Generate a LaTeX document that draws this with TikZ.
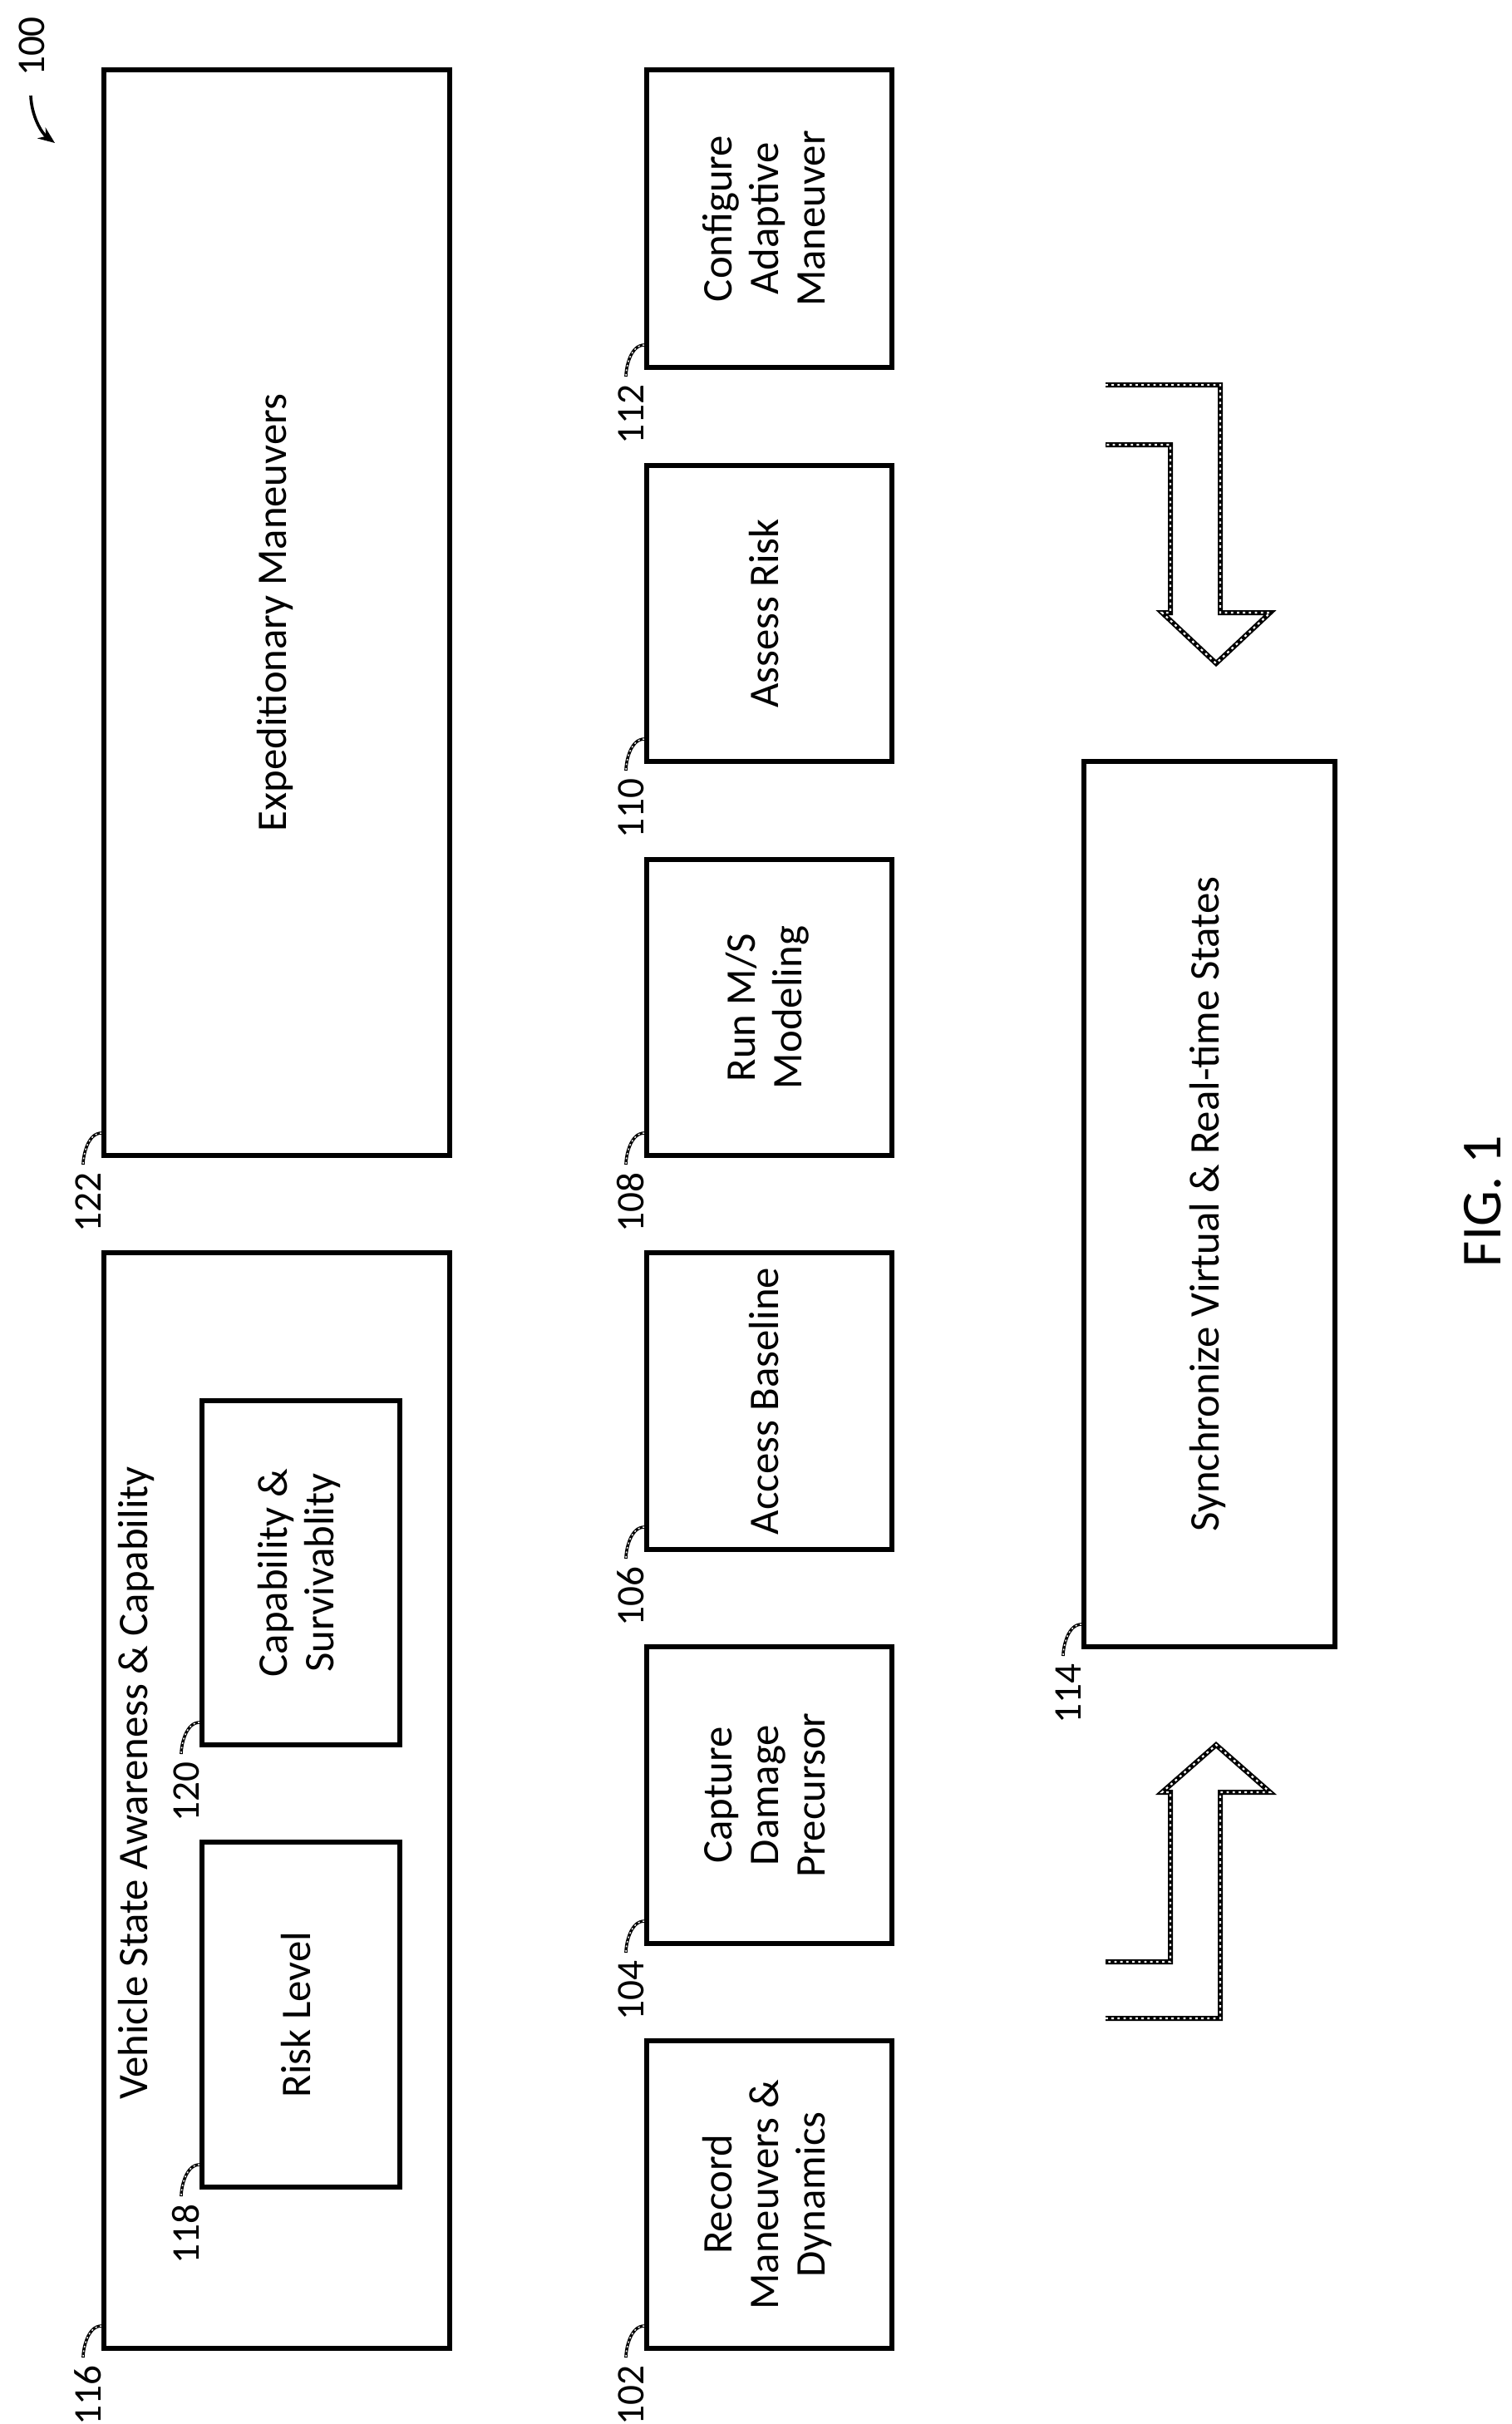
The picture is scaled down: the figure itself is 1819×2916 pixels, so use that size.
\documentclass[tikz,border=0pt]{standalone}
\usepackage{fontspec}
\usepackage{graphicx}
\setmainfont{Carlito}
\usetikzlibrary{arrows.meta}
\newcommand{\rt}[1]{\rotatebox{90}{\begin{tabular}{@{}c@{}}#1\end{tabular}}}
\begin{document}
\begin{tikzpicture}[x=0.25pt,y=-0.25pt,
  box/.style={draw,line width=1.5pt,inner sep=0pt,font=\fontsize{12.7}{14}\selectfont},
  num/.style={inner sep=0pt,anchor=north,font=\fontsize{11.8}{13}\selectfont},
  squigb/.style={line width=0.9pt,black},
  squigw/.style={line width=0.35pt,white,dash pattern=on 0.5pt off 0.9pt},
  arrb/.style={line width=1.5pt,black,line join=miter},
  arrw/.style={line width=0.55pt,white,dash pattern=on 0.7pt off 1.1pt}]
\useasboundingbox (0,0) rectangle (1819,2916);
\newcommand{\mk}[6]{% name, L, R, T, B, text
  \node[box,minimum width={(#3-#2)*0.25pt},minimum height={(#5-#4)*0.25pt}] (#1) at ({(#2+#3)/2},{(#4+#5)/2}) {#6};}
\newcommand{\lb}[2]{% name, number
  \coordinate (#1a) at ([yshift=7.5pt]#1.south west);
  \coordinate (#1b) at ([xshift=-5.5pt,yshift=-2pt]#1.south west);
  \draw[squigb] (#1a) .. controls +(-4pt,0) and +(0,3pt) .. (#1b);
  \draw[squigw] (#1a) .. controls +(-4pt,0) and +(0,3pt) .. (#1b);
  \node[num] (#1n) at ([xshift=-4pt,yshift=-4.2pt]#1.south west) {\rotatebox{90}{#2}};}
% boxes
\mk{n122}{125}{541}{84}{1390}{\rt{Expeditionary Maneuvers}}
\node[box,minimum width={416*0.25pt},minimum height={1318*0.25pt}] (n116) at (333,2166) {};
\node[inner sep=0pt,font=\fontsize{12.7}{14}\selectfont] (t116) at (166,2145) {\rt{Vehicle State Awareness \& Capability}};
\mk{n120}{243}{481}{1685}{2099}{\rt{Capability \&\\Survivablity}}
\mk{n118}{243}{481}{2216}{2631}{\rt{Risk Level}}
\mk{n112}{778}{1073}{84}{442}{\rt{Configure\\Adaptive\\Maneuver}}
\mk{n110}{778}{1073}{560}{916}{\rt{Assess Risk}}
\mk{n108}{778}{1073}{1034}{1390}{\rt{Run M/S\\Modeling}}
\mk{n106}{778}{1073}{1507}{1864}{\rt{Access Baseline}}
\mk{n104}{778}{1073}{1981}{2338}{\rt{Capture\\Damage\\Precursor}}
\mk{n102}{778}{1073}{2455}{2825}{\rt{Record\\Maneuvers \&\\Dynamics}}
\mk{n114}{1304}{1606}{916}{1981}{\rt{Synchronize Virtual \& Real-time States}}
\lb{n122}{122}\lb{n116}{116}\lb{n120}{120}\lb{n118}{118}
\lb{n112}{112}\lb{n110}{110}\lb{n108}{108}\lb{n106}{106}
\lb{n104}{104}\lb{n102}{102}\lb{n114}{114}
% hollow arrows
\foreach \s in {arrb,arrw}{
\draw[\s] (1330,463) -- (1468,463) -- (1468,737) -- (1528,737) -- (1463,798) -- (1398,737) -- (1408,737) -- (1408,535) -- (1330,535);
\draw[\s] (1330,2428) -- (1468,2428) -- (1468,2156) -- (1528,2156) -- (1463,2099) -- (1398,2156) -- (1408,2156) -- (1408,2360) -- (1330,2360);
}
% 100 reference
\node[inner sep=0pt,font=\fontsize{11.8}{13}\selectfont] (n100) at (38,56) {\rotatebox{90}{100}};
\coordinate (r100a) at (37,115);
\coordinate (r100b) at (66,172);
\draw[squigb,-{Stealth[length=5pt,width=4pt]}] (r100a) .. controls (38,140) and (50,160) .. (r100b);
\node[inner sep=0pt,font=\fontsize{17}{19}\selectfont] (fig) at (1784,1445) {\rotatebox{90}{FIG. 1}};
\end{tikzpicture}
\end{document}
